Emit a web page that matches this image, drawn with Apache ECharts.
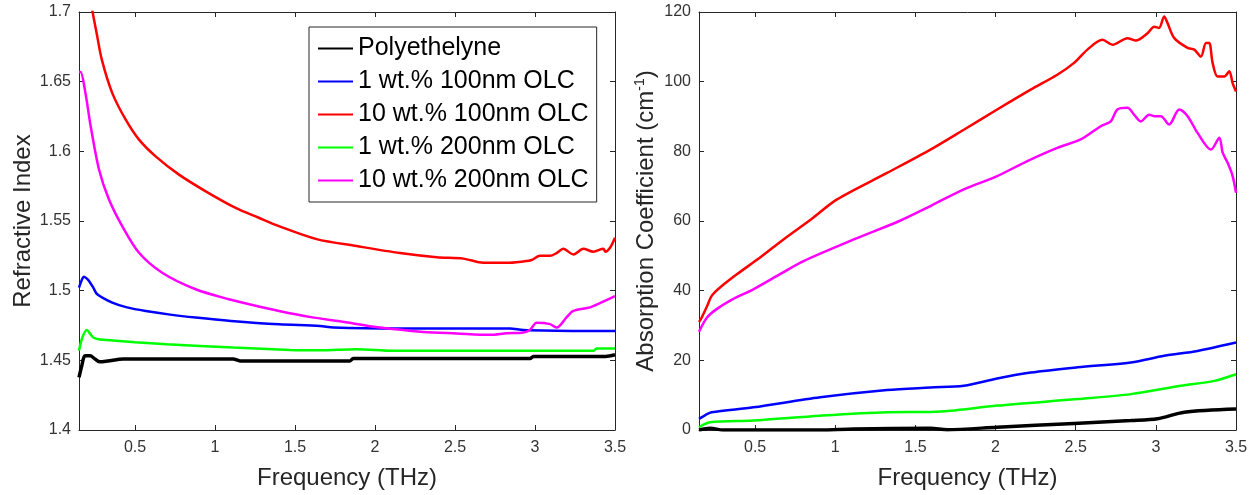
<!DOCTYPE html>
<html>
<head>
<meta charset="utf-8">
<script src="https://cdn.jsdelivr.net/npm/echarts@6/dist/echarts.min.js"></script>
<style>
  html, body { margin: 0; padding: 0; background: #fff; }
  #chart { width: 1255px; height: 495px; }
</style>
</head>
<body>
<div id="chart"></div>
<script>
// Series names (shared by both panels)
const seriesNames = ['Polyethelyne', '1 wt.% 100nm OLC', '10 wt.% 100nm OLC', '1 wt.% 200nm OLC', '10 wt.% 200nm OLC'];
const seriesColors = ['#000000', '#0000ff', '#ff0000', '#00ff00', '#ff00ff'];

// Tick values
const freqTicks = [0.5, 1, 1.5, 2, 2.5, 3, 3.5];

// ---- Refractive index panel ----
const riFreqPE = [0.15, 0.167, 0.1875, 0.219, 0.25, 0.281, 0.33, 0.427, 0.8, 1.114, 1.156, 1.5, 1.844, 1.864, 2.5, 2.969, 2.99, 3.44, 3.5];
const riPE = [1.4377, 1.446, 1.4532, 1.4532, 1.451, 1.4489, 1.4495, 1.4509, 1.4509, 1.4509, 1.4496, 1.4496, 1.4496, 1.4513, 1.4513, 1.4513, 1.4528, 1.4528, 1.454];

const riFreq1w100 = [0.15, 0.165, 0.181, 0.2, 0.2125, 0.24, 0.264, 0.358, 0.45, 0.567, 0.72, 0.879, 1.1, 1.40, 1.656, 1.74, 2.156, 2.844, 2.927, 3.26, 3.5];
const ri1w100 = [1.5022, 1.507, 1.510, 1.5085, 1.507, 1.502, 1.4974, 1.4914, 1.488, 1.4854, 1.4828, 1.4807, 1.4783, 1.4759, 1.4747, 1.4735, 1.4728, 1.4728, 1.4718, 1.4711, 1.471];

const riFreq10w100 = [0.215, 0.235, 0.26, 0.293, 0.358, 0.442, 0.525, 0.629, 0.775, 0.942, 1.129, 1.27, 1.40, 1.635, 1.885, 2.156, 2.386, 2.552, 2.677, 2.823, 2.927, 2.98, 3.031, 3.094, 3.135, 3.177, 3.24, 3.302, 3.365, 3.427, 3.44, 3.47, 3.5];
const ri10w100 = [1.715, 1.700, 1.685, 1.6656, 1.6418, 1.6227, 1.6084, 1.5964, 1.5833, 1.5713, 1.5594, 1.5525, 1.5463, 1.537, 1.532, 1.527, 1.524, 1.523, 1.520, 1.520, 1.521, 1.522, 1.525, 1.525, 1.527, 1.530, 1.526, 1.530, 1.528, 1.530, 1.528, 1.531, 1.538];

const riFreq1w200 = [0.15, 0.17, 0.198, 0.22, 0.239, 0.28, 0.344, 0.5, 0.698, 1.114, 1.469, 1.656, 1.885, 2.114, 3.365, 3.385, 3.5];
const ri1w200 = [1.4568, 1.466, 1.4718, 1.469, 1.4664, 1.465, 1.4644, 1.463, 1.4616, 1.4592, 1.4575, 1.4572, 1.458, 1.4568, 1.4568, 1.4585, 1.4585];

const riFreq10w200 = [0.15, 0.16, 0.19, 0.223, 0.275, 0.3375, 0.42, 0.525, 0.67, 0.879, 1.0875, 1.24, 1.40, 1.6, 1.781, 2.031, 2.302, 2.511, 2.719, 2.823, 2.927, 2.969, 3.011, 3.094, 3.136, 3.198, 3.24, 3.344, 3.406, 3.5];
const ri10w200 = [1.657, 1.657, 1.642, 1.618, 1.587, 1.5654, 1.5463, 1.5272, 1.5129, 1.501, 1.4938, 1.4895, 1.4854, 1.481, 1.478, 1.4735, 1.4704, 1.4693, 1.4683, 1.4694, 1.470, 1.472, 1.477, 1.476, 1.4735, 1.481, 1.4855, 1.488, 1.491, 1.496];

// ---- Absorption coefficient panel ----
const abFreqPE = [0.15, 0.219, 0.302, 0.906, 1.115, 1.594, 1.698, 2.01, 2.49, 2.844, 3.01, 3.177, 3.5];
const abPE = [0, 0.5, 0, 0, 0.3, 0.5, 0.1, 0.8, 1.9, 2.7, 3.2, 5.1, 6.0];

const abFreq1w100 = [0.15, 0.19, 0.229, 0.489, 0.906, 1.323, 1.594, 1.802, 2.01, 2.219, 2.51, 2.844, 3.052, 3.26, 3.5];
const ab1w100 = [3.2, 4.3, 5.1, 6.5, 9.4, 11.5, 12.2, 12.7, 14.8, 16.5, 18.0, 19.4, 21.3, 22.7, 25.1];

const abFreq10w100 = [0.15, 0.167, 0.2, 0.229, 0.281, 0.386, 0.531, 0.677, 0.85, 1.011, 1.323, 1.594, 1.802, 2.01, 2.219, 2.385, 2.49, 2.573, 2.667, 2.73, 2.823, 2.875, 2.948, 2.99, 3.02, 3.052, 3.073, 3.115, 3.198, 3.24, 3.281, 3.313, 3.333, 3.354, 3.385, 3.427, 3.458, 3.479, 3.5];
const ab10w100 = [31.0, 32.3, 35.5, 38.5, 40.9, 44.7, 49.5, 54.7, 60.5, 66.2, 73.8, 80.5, 86.2, 92.0, 97.7, 102.0, 105.4, 109.2, 112.0, 110.6, 112.5, 111.8, 113.9, 115.8, 115.4, 118.7, 116.8, 112.5, 109.7, 109.2, 107.2, 111.1, 111.1, 105.4, 101.5, 101.5, 103.0, 99.6, 97.2];

const abFreq1w200 = [0.15, 0.219, 0.489, 0.906, 1.323, 1.594, 1.719, 2.01, 2.51, 2.844, 3.156, 3.365, 3.5];
const ab1w200 = [0.8, 2.2, 2.7, 4.1, 5.1, 5.2, 5.5, 7.0, 8.9, 10.3, 12.7, 14.1, 16.0];

const abFreq10w200 = [0.15, 0.2, 0.26, 0.35, 0.489, 0.65, 0.802, 1.115, 1.4, 1.594, 1.802, 2.01, 2.198, 2.385, 2.531, 2.656, 2.719, 2.76, 2.823, 2.865, 2.906, 2.958, 2.99, 3.031, 3.083, 3.146, 3.198, 3.26, 3.344, 3.396, 3.417, 3.448, 3.479, 3.5];
const ab10w200 = [28.2, 32.3, 34.7, 37.3, 40.4, 44.6, 48.5, 54.7, 60.0, 64.3, 69.1, 72.9, 77.2, 81.0, 83.4, 87.2, 88.6, 92.0, 92.5, 90.5, 88.6, 90.5, 90.1, 90.1, 87.7, 92.0, 90.1, 85.3, 80.5, 83.9, 79.6, 76.7, 72.9, 68.1];

const zip = (xs, ys) => xs.map((x, i) => [x, ys[i]]);

const riSets = [[riFreqPE, riPE], [riFreq1w100, ri1w100], [riFreq10w100, ri10w100], [riFreq1w200, ri1w200], [riFreq10w200, ri10w200]];
const abSets = [[abFreqPE, abPE], [abFreq1w100, ab1w100], [abFreq10w100, ab10w100], [abFreq1w200, ab1w200], [abFreq10w200, ab10w200]];

const FONT = '"Liberation Sans", Arial, sans-serif';
const AXIS_COLOR = '#262626';

function bottomX(gridIndex) {
  return {
    type: 'value', gridIndex, min: 0.15, max: 3.5, position: 'bottom',
    name: 'Frequency (THz)', nameLocation: 'middle', nameGap: 36,
    nameTextStyle: { fontFamily: FONT, fontSize: 24, color: AXIS_COLOR },
    axisLine: { show: true, onZero: false, lineStyle: { color: AXIS_COLOR, width: 1 } },
    axisTick: { show: true, inside: true, length: 5, customValues: freqTicks, lineStyle: { color: AXIS_COLOR } },
    axisLabel: { show: true, customValues: freqTicks, margin: 10, fontFamily: FONT, fontSize: 16, color: '#333333' },
    splitLine: { show: false }
  };
}
function topX(gridIndex) {
  return {
    type: 'value', gridIndex, min: 0.15, max: 3.5, position: 'top',
    axisLine: { show: true, onZero: false, lineStyle: { color: AXIS_COLOR, width: 1 } },
    axisTick: { show: true, inside: true, length: 5, customValues: freqTicks, lineStyle: { color: AXIS_COLOR } },
    axisLabel: { show: false },
    splitLine: { show: false }
  };
}
function leftY(gridIndex, min, max, interval, name, gap, rich) {
  return {
    type: 'value', gridIndex, min, max, interval, position: 'left',
    name, nameLocation: 'middle', nameGap: gap,
    nameTextStyle: { fontFamily: FONT, fontSize: 24, color: AXIS_COLOR, rich: rich || {} },
    axisLine: { show: true, onZero: false, lineStyle: { color: AXIS_COLOR, width: 1 } },
    axisTick: { show: true, inside: true, length: 5, lineStyle: { color: AXIS_COLOR } },
    axisLabel: { show: true, margin: 8, fontFamily: FONT, fontSize: 16, color: '#333333' },
    splitLine: { show: false }
  };
}
function rightY(gridIndex, min, max, interval) {
  return {
    type: 'value', gridIndex, min, max, interval, position: 'right',
    axisLine: { show: true, onZero: false, lineStyle: { color: AXIS_COLOR, width: 1 } },
    axisTick: { show: true, inside: true, length: 5, lineStyle: { color: AXIS_COLOR } },
    axisLabel: { show: false },
    splitLine: { show: false }
  };
}

function lineSeries(name, idx, axisIndex, data) {
  return {
    name, type: 'line', xAxisIndex: axisIndex, yAxisIndex: axisIndex,
    data, symbol: 'none', clip: true, animation: false,
    smooth: 0.3,
    lineStyle: { color: seriesColors[idx], width: idx === 0 ? 3.5 : 2.5 },
    itemStyle: { color: seriesColors[idx] }
  };
}

const series = [];
riSets.forEach((s, i) => series.push(lineSeries(seriesNames[i], i, 0, zip(s[0], s[1]))));
abSets.forEach((s, i) => series.push(lineSeries(seriesNames[i], i, 2, zip(s[0], s[1]))));

const chart = echarts.init(document.getElementById('chart'), null, { renderer: 'canvas' });
chart.setOption({
  animation: false,
  backgroundColor: '#ffffff',
  grid: [
    { left: 79, top: 12, width: 536, height: 419 },
    { left: 699, top: 12, width: 537, height: 419 }
  ],
  xAxis: [bottomX(0), topX(0), bottomX(1), topX(1)],
  yAxis: [
    leftY(0, 1.4, 1.7, 0.05, 'Refractive Index', 44),
    rightY(0, 1.4, 1.7, 0.05),
    leftY(1, 0, 120, 20, 'Absorption Coefficient (cm{sup|-1})', 40, {
      sup: { fontFamily: FONT, fontSize: 14, color: AXIS_COLOR, padding: [0, 0, 12, 0] }
    }),
    rightY(1, 0, 120, 20)
  ],
  legend: {
    data: seriesNames,
    orient: 'vertical',
    left: 309, top: 27,
    padding: [9, 8, 9, 8],
    itemGap: 8,
    itemWidth: 35, itemHeight: 14,
    backgroundColor: '#ffffff',
    borderColor: AXIS_COLOR, borderWidth: 1,
    // line-only keys: hide the marker drawn on top of each key line
    itemStyle: { color: 'rgba(0,0,0,0)', borderWidth: 0, opacity: 0 },
    textStyle: { fontFamily: FONT, fontSize: 25, color: '#000000' },
    selectedMode: false
  },
  series
});
</script>
</body>
</html>
